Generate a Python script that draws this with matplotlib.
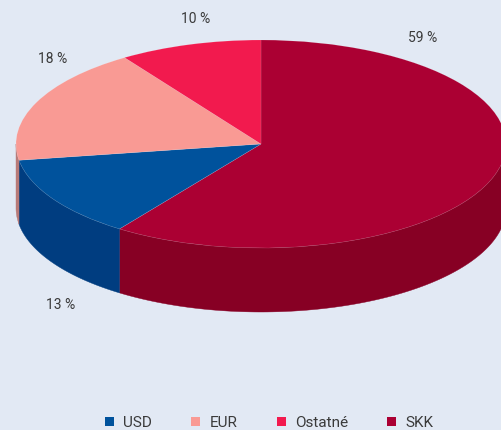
import numpy as np
import matplotlib
matplotlib.use("Agg")
import matplotlib.pyplot as plt
from matplotlib.patches import Patch

# clockwise from 12 o'clock
categories = ["SKK", "USD", "EUR", "Ostatné"]
shares = [59.8, 12.7, 18.1, 9.4]
labels = ["59 %", "13 %", "18 %", "10 %"]
legend_order = ["USD", "EUR", "Ostatné", "SKK"]
colors = {"SKK": "#AB0033", "USD": "#00529C", "EUR": "#F99A94", "Ostatné": "#F21A4E"}
side_colors = {"SKK": "#870024", "USD": "#003D80", "EUR": "#B87A78", "Ostatné": "#C01540"}

W, H = 501, 430
BG = "#E2E9F4"
CX, CY, RX, RY, DEPTH = 261.0, 144.0, 245.0, 104.0, 64.0
plt.rcParams["font.family"] = ["Roboto", "DejaVu Sans"]

fig = plt.figure(figsize=(W / 100, H / 100), dpi=100, facecolor=BG)
ax = fig.add_axes([0, 0, 1, 1])
ax.set_facecolor(BG)

# top face: unit circle squeezed to an ellipse by the axis limits
wedges, _ = ax.pie(shares, colors=[colors[c] for c in categories], startangle=90,
                   counterclock=False, radius=1,
                   wedgeprops=dict(edgecolor="#FFFFFF30", linewidth=0.4, zorder=3))
ax.set_xlim(-CX / RX, (W - CX) / RX)
ax.set_ylim((CY - H) / RY, CY / RY)
ax.set_aspect("auto")
ax.axis("off")

# side wall: front half of the rim only (90..270 deg clockwise from the top)
d = DEPTH / RY
edges = np.cumsum([0] + shares) / sum(shares) * 360
for c, a0, a1 in zip(categories, edges[:-1], edges[1:]):
    lo, hi = max(a0, 90), min(a1, 270)
    if hi <= lo:
        continue
    t = np.radians(np.linspace(lo, hi, 120))
    x, y = np.sin(t), np.cos(t)
    ax.fill(np.r_[x, x[::-1]], np.r_[y, y[::-1] - d], color=side_colors[c],
            lw=0.3, zorder=1)

# percentage labels, placed in figure pixels
label_px = {"SKK": (423, 38), "USD": (61, 305), "EUR": (53, 59), "Ostatné": (196, 19)}
for c, lab in zip(categories, labels):
    px, py = label_px[c]
    fig.text(px / W, 1 - py / H, lab, ha="center", va="center", fontsize=10,
             color="#3A3A3A")

handles = [Patch(facecolor=colors[c], label=c) for c in legend_order]
fig.legend(handles=handles, ncol=4, loc="lower center", bbox_to_anchor=(0.5375, -0.032),
           frameon=False, fontsize=11, labelcolor="#3A3A3A", handlelength=0.58,
           handleheight=0.58, handletextpad=0.62, columnspacing=2.57)

fig.savefig("out.png", dpi=100, facecolor=BG)
